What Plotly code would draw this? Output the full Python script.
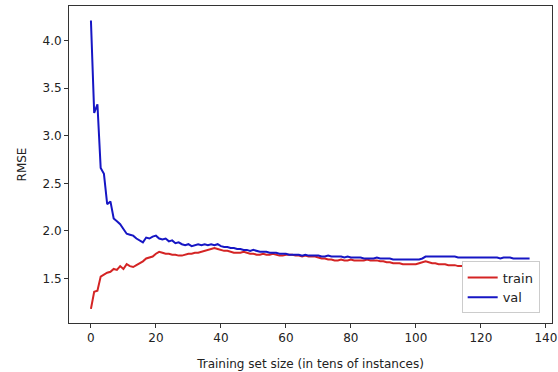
import plotly.graph_objects as go

train_rmse = [
    1.18, 1.36, 1.37, 1.52, 1.54, 1.56, 1.57, 1.60, 1.59, 1.63,
    1.60, 1.65, 1.63, 1.62, 1.64, 1.66, 1.68, 1.71, 1.72, 1.73,
    1.76, 1.78, 1.77, 1.76, 1.76, 1.75, 1.75, 1.74, 1.74, 1.75,
    1.76, 1.76, 1.77, 1.77, 1.78, 1.79, 1.80, 1.81, 1.82, 1.81,
    1.80, 1.79, 1.79, 1.78, 1.77, 1.77, 1.77, 1.78, 1.77, 1.76,
    1.76, 1.75, 1.75, 1.76, 1.75, 1.75, 1.76, 1.75, 1.74, 1.74,
    1.75, 1.75, 1.75, 1.74, 1.74, 1.73, 1.74, 1.73, 1.73, 1.73,
    1.72, 1.71, 1.71, 1.70, 1.70, 1.69, 1.69, 1.70, 1.69, 1.69,
    1.70, 1.69, 1.69, 1.69, 1.69, 1.70, 1.69, 1.69, 1.69, 1.68,
    1.68, 1.67, 1.67, 1.66, 1.66, 1.66, 1.65, 1.65, 1.65, 1.65,
    1.65, 1.66, 1.67, 1.68, 1.67, 1.66, 1.66, 1.65, 1.65, 1.65,
    1.64, 1.64, 1.64, 1.63, 1.63, 1.63, 1.63, 1.64, 1.64, 1.63,
    1.63, 1.64, 1.64, 1.64, 1.63, 1.63, 1.63, 1.63, 1.62, 1.63,
    1.62, 1.62, 1.62, 1.62, 1.62, 1.62,
]

val_rmse = [
    4.21, 3.24, 3.33, 2.66, 2.60, 2.28, 2.31, 2.13, 2.10, 2.07,
    2.02, 1.97, 1.96, 1.95, 1.92, 1.90, 1.88, 1.93, 1.92, 1.94,
    1.95, 1.92, 1.91, 1.92, 1.89, 1.90, 1.87, 1.88, 1.86, 1.85,
    1.86, 1.84, 1.85, 1.86, 1.85, 1.86, 1.85, 1.86, 1.85, 1.86,
    1.84, 1.83, 1.83, 1.82, 1.82, 1.81, 1.81, 1.80, 1.80, 1.79,
    1.80, 1.79, 1.78, 1.78, 1.78, 1.77, 1.77, 1.77, 1.76, 1.76,
    1.76, 1.75, 1.75, 1.75, 1.75, 1.74, 1.75, 1.74, 1.74, 1.74,
    1.74, 1.73, 1.73, 1.74, 1.73, 1.73, 1.73, 1.73, 1.72, 1.73,
    1.72, 1.72, 1.72, 1.72, 1.71, 1.71, 1.71, 1.71, 1.72, 1.71,
    1.71, 1.71, 1.71, 1.70, 1.70, 1.70, 1.70, 1.70, 1.70, 1.70,
    1.70, 1.70, 1.71, 1.73, 1.73, 1.73, 1.73, 1.73, 1.73, 1.73,
    1.73, 1.73, 1.73, 1.72, 1.72, 1.72, 1.72, 1.72, 1.72, 1.72,
    1.72, 1.72, 1.72, 1.72, 1.72, 1.72, 1.71, 1.72, 1.72, 1.72,
    1.71, 1.71, 1.71, 1.71, 1.71, 1.71,
]

sizes = list(range(len(train_rmse)))

x_ticks = [0, 20, 40, 60, 80, 100, 120, 140]
y_ticks = [1.5, 2.0, 2.5, 3.0, 3.5, 4.0]

FONT = "DejaVu Sans"

fig = go.Figure()
fig.add_trace(go.Scatter(x=sizes, y=train_rmse, mode="lines", name="train",
                         line=dict(color="#d42424", width=2)))
fig.add_trace(go.Scatter(x=sizes, y=val_rmse, mode="lines", name="val",
                         line=dict(color="#1616c4", width=2)))

axis_common = dict(showline=True, linecolor="#333333", linewidth=1, mirror=True,
                   ticks="outside", ticklen=4, tickcolor="#333333", showgrid=False,
                   zeroline=False, ticklabeloverflow="allow",
                   tickfont=dict(family=FONT, size=12, color="#222222"))

fig.update_layout(
    width=558, height=372,
    margin=dict(l=69, r=1, t=6, b=49),
    paper_bgcolor="white", plot_bgcolor="white",
    font=dict(family=FONT, size=12, color="#222222"),
    xaxis=dict(range=[-6.75, 141.9], tickvals=x_ticks,
               title=dict(text="Training set size (in tens of instances)",
                          font=dict(family=FONT, size=12), standoff=15),
               **axis_common),
    yaxis=dict(range=[1.032, 4.363], tickvals=y_ticks, tickformat=".1f",
               title=dict(text="RMSE", font=dict(family=FONT, size=12), standoff=13),
               **axis_common),
    legend=dict(x=0.813, y=0.03, xanchor="left", yanchor="bottom",
                bordercolor="#cccccc", borderwidth=1, bgcolor="white",
                font=dict(family=FONT, size=13)),
    showlegend=True,
)

fig.write_html("out.html")
